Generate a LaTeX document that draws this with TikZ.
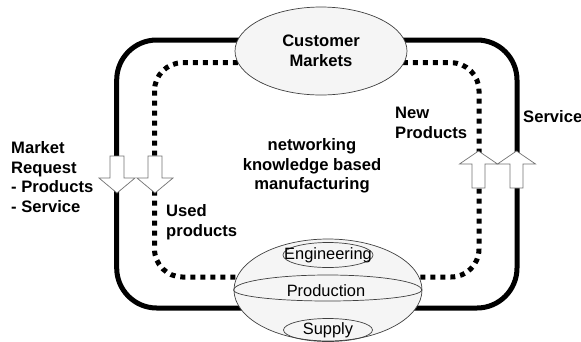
\documentclass[tikz,border=0pt]{standalone}
\usepackage{fontspec}
\setmainfont{Liberation Sans}
\usetikzlibrary{shapes.geometric}
\tikzset{
	solidloop/.style={line width=5pt},
	dotloop/.style={line width=5pt,dash pattern=on 5pt off 5pt},
	area/.style={ellipse,draw=black!75,fill=black!4,line width=0.7pt,inner sep=0pt},
	subarea/.style={ellipse,draw=black!75,line width=0.7pt,inner sep=0pt},
	blockarrow/.style={draw=black!55,fill=white,line width=0.7pt},
	boldlabel/.style={font=\fontsize{16.6}{19.6}\selectfont\bfseries,inner sep=0pt},
	plainlabel/.style={font=\fontsize{16.4}{19.6}\selectfont,inner sep=0pt}
}
\begin{document}
\begin{tikzpicture}[x=1pt,y=-1pt]
	\useasboundingbox (0,0) rectangle (581,341);
	% loops
	\draw[solidloop,rounded corners=40pt] (116.7,40) rectangle (517,308);
	\draw[dotloop,rounded corners=28pt] (154.5,62.7) rectangle (479,277);
	% block arrows
	\foreach \x in {117,155}
		\draw[blockarrow] ({\x-7},156) -- ({\x+7},156) -- ({\x+7},178) -- ({\x+18},178)
			-- (\x,193) -- ({\x-18},178) -- ({\x-7},178) -- cycle;
	\foreach \x in {478.5,516.5}
		\draw[blockarrow] ({\x-6.5},188) -- ({\x+6.5},188) -- ({\x+6.5},164) -- ({\x+19},164)
			-- (\x,151) -- ({\x-19},164) -- ({\x-6.5},164) -- cycle;
	% markets and manufacturing
	\node[area,minimum width=172pt,minimum height=88pt,boldlabel,align=center] (markets) at (321,51) {Customer\\Markets};
	\node[area,minimum width=188pt,minimum height=102pt] (works) at (328,290) {};
	\draw[black!75,line width=0.7pt] (works.west) arc[start angle=180,end angle=360,x radius=94pt,y radius=11pt];
	\draw[black!75,line width=0.7pt] (works.west) arc[start angle=180,end angle=0,x radius=94pt,y radius=15pt];
	\node[subarea,minimum width=90pt,minimum height=25pt] (eng) at (328,255) {};
	\node[subarea,minimum width=89pt,minimum height=23pt] (supply) at (328,330) {};
	\node[plainlabel] (englabel) at (eng) {Engineering};
	\node[plainlabel] (prodlabel) at (326,291) {Production};
	\node[plainlabel] (supplylabel) at (supply) {Supply};
	% labels
	\node[boldlabel,align=left,anchor=west] (request) at (11,177) {Market\\Request\\- Products\\- Service};
	\node[boldlabel,align=center] (network) at (312,166) {networking\\knowledge based\\manufacturing};
	\node[boldlabel,align=left,anchor=west] (used) at (166,222.5) {Used\\products};
	\node[boldlabel,align=left,anchor=west] (newprod) at (395,123) {New\\Products};
	\node[boldlabel,anchor=west] (service) at (523,117) {Service};
\end{tikzpicture}
\end{document}
